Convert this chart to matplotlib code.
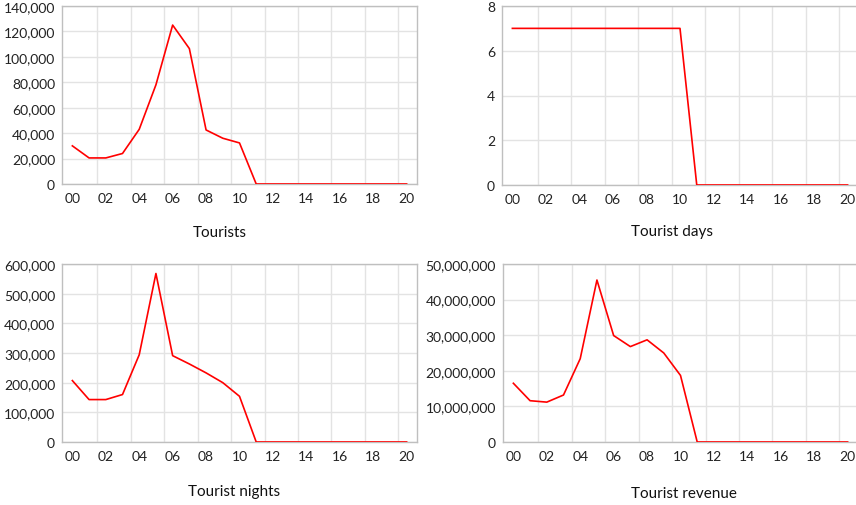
import numpy as np
import matplotlib
matplotlib.use('Agg')
import matplotlib.pyplot as plt
from matplotlib.ticker import FuncFormatter, FixedLocator

plt.rcParams['font.family'] = ['Lato', 'DejaVu Sans']

years = ['00', '01', '02', '03', '04', '05', '06', '07', '08', '09', '10',
         '11', '12', '13', '14', '15', '16', '17', '18', '19', '20']

tourists = [30000, 20500, 20500, 24000, 43000, 78000, 125000, 106500, 42500, 36000, 32300,
            0, 0, 0, 0, 0, 0, 0, 0, 0, 0]
tourist_days = [7, 7, 7, 7, 7, 7, 7, 7, 7, 7, 7,
                0, 0, 0, 0, 0, 0, 0, 0, 0, 0]
tourist_nights = [207000, 143000, 143000, 160000, 294000, 568000, 291000, 263000, 233000, 200000, 154000,
                  0, 0, 0, 0, 0, 0, 0, 0, 0, 0]
tourist_revenue = [16500000, 11600000, 11200000, 13200000, 23400000, 45500000, 29900000, 26800000,
                   28700000, 25000000, 18700000, 0, 0, 0, 0, 0, 0, 0, 0, 0, 0]

# title, data, y max, y step, axes box (px: left, top, right, bottom), title position (px)
panels = [
    ('Tourists', tourists, 140000, 20000, [62, 7, 417, 185], (220, 233)),
    ('Tourist days', tourist_days, 8, 2, [502, 7, 858, 186], (672, 232)),
    ('Tourist nights', tourist_nights, 600000, 100000, [62, 265, 417, 443], (234, 492)),
    ('Tourist revenue', tourist_revenue, 50000000, 10000000, [503, 265, 858, 443], (684, 494)),
]

W, H = 856, 506
fig = plt.figure(figsize=(W / 100, H / 100), dpi=100)

x = np.arange(len(years))
for title, vals, ymax, ystep, (l, t, r, b), (tx, ty) in panels:
    ax = fig.add_axes([l / W, 1 - b / H, (r - l) / W, (b - t) / H])
    ax.plot(x, vals, color='#ff0000', lw=1.2, zorder=3)
    ax.set_xlim(-0.62, 20.62)
    ax.set_ylim(0, ymax)
    ax.set_xticks(x[::2])
    ax.set_xticklabels(years[::2])
    ax.xaxis.set_minor_locator(FixedLocator(np.arange(1.5, 20, 2)))
    ax.set_yticks(np.arange(0, ymax + ystep / 2, ystep))
    ax.yaxis.set_major_formatter(FuncFormatter(lambda v, p: f'{int(v):,}'))
    ax.grid(False)
    ax.grid(axis='y', which='major', color='#e3e3e3', lw=1)
    ax.grid(axis='x', which='minor', color='#e3e3e3', lw=1)
    ax.tick_params(which='both', length=0, labelsize=10, colors='#222222')
    ax.tick_params(axis='x', pad=6)
    ax.tick_params(axis='y', pad=5)
    for s in ax.spines.values():
        s.set_color('#bfbfbf')
        s.set_linewidth(1)
    fig.text(tx / W, 1 - ty / H, title, ha='center', va='center',
             fontsize=11, color='#111111')

fig.savefig('out.png', dpi=100)
